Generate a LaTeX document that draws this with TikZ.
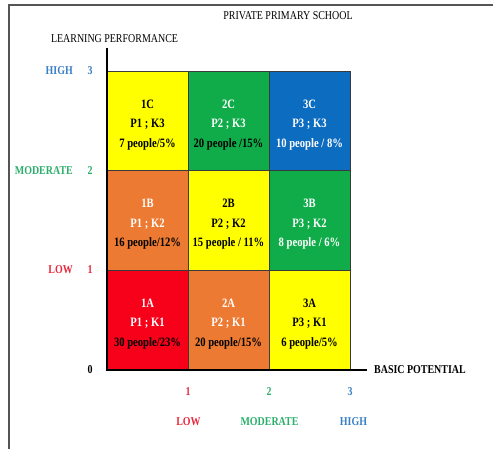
\documentclass[tikz,border=0pt]{standalone}
\usepackage{fontspec}
\setmainfont{Liberation Serif}[FakeStretch=0.83]
\definecolor{cyel}{HTML}{FFFF00}
\definecolor{cgrn}{HTML}{10AC4A}
\definecolor{cblu}{HTML}{0C6CBF}
\definecolor{corg}{HTML}{EC7A33}
\definecolor{cred}{HTML}{F7001A}
\definecolor{lblu}{HTML}{3A7FC4}
\definecolor{lgrn}{HTML}{2BAE6A}
\definecolor{lred}{HTML}{E8283C}
\definecolor{gridc}{HTML}{3A3A3A}
\definecolor{framec}{HTML}{555555}
\tikzset{
  cell/.style={draw=gridc, line width=0.9pt, minimum width=81pt, minimum height=100pt,
    inner sep=0pt, text=black,
    font=\fontsize{12.8}{19.5}\selectfont\bfseries},
  axislbl/.style={inner sep=0pt, font=\fontsize{12}{14}\selectfont},
  ticklbl/.style={inner sep=0pt, font=\fontsize{12}{14}\selectfont\bfseries},
  axisline/.style={line width=2pt, black},
}
\newcommand{\wt}[1]{{\color{white}#1}}
\newcommand{\ctext}[3]{\raisebox{-3pt}[\height][\depth]{\begin{tabular}{@{}c@{}}#1\\#2\\#3\end{tabular}}}
\begin{document}
\begin{tikzpicture}[x=1pt,y=-1pt]
\useasboundingbox (0,0) rectangle (493,449);
% frame
\draw[framec, line width=1.6pt] (9,449) -- (9,5) -- (493,5);
% cells
\node[cell, fill=cyel] (c1C) at (147.5,121) {\ctext{1C}{P1 ; K3}{7 people/5\%}};
\node[cell, fill=cgrn] (c2C) at (228.5,121) {\ctext{\wt{2C}}{\wt{P2 ; K3}}{20 people /15\%}};
\node[cell, fill=cblu] (c3C) at (309.5,121) {\ctext{\wt{3C}}{\wt{P3 ; K3}}{\wt{10 people / 8\%}}};
\node[cell, fill=corg] (c1B) at (147.5,220.5) {\ctext{\wt{1B}}{\wt{P1 ; K2}}{16 people/12\%}};
\node[cell, fill=cyel] (c2B) at (228.5,220.5) {\ctext{2B}{P2 ; K2}{15 people / 11\%}};
\node[cell, fill=cgrn] (c3B) at (309.5,220.5) {\ctext{\wt{3B}}{\wt{P3 ; K2}}{\wt{8 people / 6\%}}};
\node[cell, fill=cred] (c1A) at (147.5,320) {\ctext{\wt{1A}}{\wt{P1 ; K1}}{30 people/23\%}};
\node[cell, fill=corg] (c2A) at (228.5,320) {\ctext{\wt{2A}}{\wt{P2 ; K1}}{20 people/15\%}};
\node[cell, fill=cyel] (c3A) at (309.5,320) {\ctext{3A}{P3 ; K1}{6 people/5\%}};
% axes
\coordinate (origin) at (107,370);
\coordinate (ytop) at (107,48);
\coordinate (xend) at (367,370);
\draw[axisline] (ytop) -- (origin) -- (xend);
% titles
\node[axislbl] (title) at (288,16) {PRIVATE PRIMARY SCHOOL};
\node[axislbl] (ylabel) at (114.5,39) {LEARNING PERFORMANCE};
\node[ticklbl, anchor=west] (xlabel) at (374,370) {BASIC POTENTIAL};
% y ticks
\node[ticklbl, text=lblu, anchor=east] (yhigh) at (73,71) {HIGH};
\node[ticklbl, text=lblu] (y3) at (90,71) {3};
\node[ticklbl, text=lgrn, anchor=east] (ymod) at (73,171) {MODERATE};
\node[ticklbl, text=lgrn] (y2) at (90,171) {2};
\node[ticklbl, text=lred, anchor=east] (ylow) at (73,270) {LOW};
\node[ticklbl, text=lred] (y1) at (90,270) {1};
\node[ticklbl] (y0) at (90,370) {0};
% x ticks
\node[ticklbl, text=lred] (x1) at (188,392) {1};
\node[ticklbl, text=lgrn] (x2) at (269,392) {2};
\node[ticklbl, text=lblu] (x3) at (350,392) {3};
\node[ticklbl, text=lred] (xlow) at (188.5,422) {LOW};
\node[ticklbl, text=lgrn] (xmod) at (269.5,422) {MODERATE};
\node[ticklbl, text=lblu] (xhigh) at (353.5,422) {HIGH};
\end{tikzpicture}
\end{document}
